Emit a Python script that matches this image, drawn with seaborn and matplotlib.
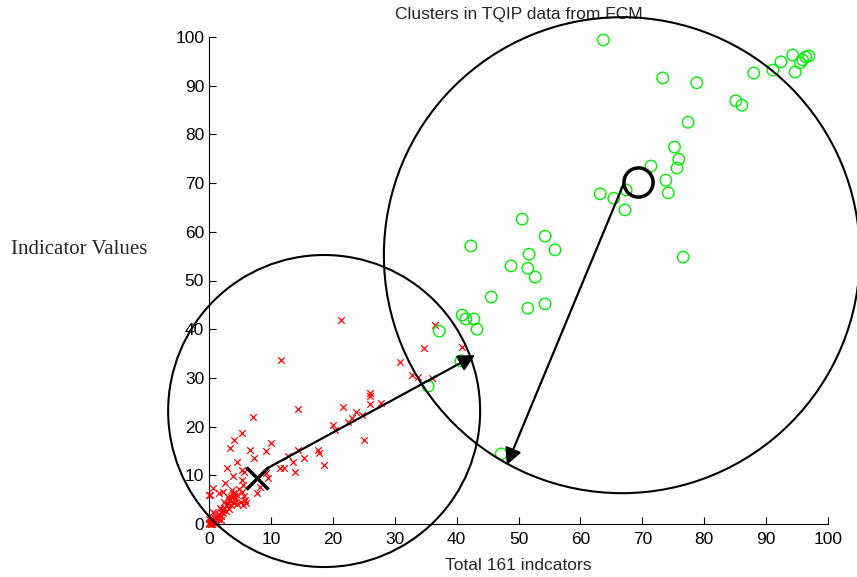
import matplotlib
matplotlib.use("Agg")
import matplotlib.pyplot as plt
from matplotlib.patches import Ellipse
import seaborn as sns

sns.set_theme(style="ticks")
plt.rcParams["font.family"] = ["Liberation Sans", "DejaVu Sans"]

# cluster 1 (red crosses)
red_x = [21.3, 11.6, 36.5, 34.7, 40.9, 30.9, 32.8, 33.8, 36.0, 26.0, 26.0, 26.0,
         27.8, 14.4, 7.1, 21.6, 23.1, 22.5, 23.7, 24.7, 20.0, 20.4, 25.0, 5.3,
         4.0, 3.4, 6.6, 10.0, 9.2, 7.3, 4.5, 2.9, 5.3, 3.9, 5.6, 11.5, 12.1,
         12.8, 13.6, 13.9, 14.4, 15.4, 17.6, 17.8, 18.6, 9.2, 9.5, 8.2, 7.8,
         5.5, 5.3, 2.6, 1.6, 0.6, 0.0, 0.2, 2.3,
         3.8, 4.0, 3.5, 3.2, 4.2, 4.5, 5.3, 5.6, 5.8, 5.9, 5.5, 5.2, 3.0, 2.7,
         2.5, 2.2, 1.9, 1.6, 1.4, 1.2, 1.0, 0.8, 0.6, 0.4, 0.2, 0.3, 0.1, 0.5,
         1.0, 1.5, 2.0, 2.3, 2.8, 3.3, 3.6, 4.0, 4.6, 1.8, 2.4, 3.0, 3.7, 4.8,
         1.2, 0.0, 0.7, 2.0, 0.0, 0.3, 0.0]
red_y = [41.9, 33.7, 40.9, 36.1, 36.3, 33.3, 30.6, 30.2, 30.0, 26.9, 26.3, 24.6,
         24.8, 23.6, 22.0, 24.0, 21.8, 21.0, 23.0, 22.4, 20.3, 19.3, 17.2, 18.7,
         17.2, 15.6, 15.2, 16.6, 15.0, 13.6, 12.7, 11.5, 11.1, 9.9, 10.6, 11.5,
         11.5, 14.0, 12.7, 10.7, 15.2, 13.6, 15.2, 14.6, 12.1, 10.5, 9.5, 7.6,
         6.4, 8.0, 9.0, 8.4, 6.4, 7.4, 6.0, 6.0, 6.6,
         6.4, 5.8, 5.5, 5.0, 5.2, 6.0, 6.5, 5.8, 5.0, 4.3, 3.8, 4.5, 4.2, 3.8,
         3.3, 2.8, 2.5, 2.0, 1.8, 1.5, 1.2, 0.9, 0.6, 0.4, 0.2, 0.8, 0.5, 0.1,
         0.4, 1.0, 1.6, 2.2, 2.6, 3.0, 3.8, 4.3, 4.1, 3.2, 4.5, 5.5, 7.0, 7.2,
         0.0, 1.0, 2.5, 0.8, 0.0, 0.0, 0.3]

# cluster 2 (green circles)
green_x = [63.7, 73.3, 78.8, 88.0, 91.1, 92.4, 94.3, 94.7, 95.5, 95.9, 96.4,
           96.9, 85.1, 86.1, 77.4, 75.2, 75.9, 75.6, 71.4, 73.8, 74.2, 63.2,
           65.4, 67.4, 67.2, 76.6, 50.6, 54.3, 55.9, 42.3, 51.7, 48.8, 51.5,
           52.7, 45.6, 51.5, 54.3, 40.9, 41.5, 42.8, 43.3, 37.2, 40.7, 35.4,
           47.2]
green_y = [99.4, 91.6, 90.6, 92.6, 93.2, 94.9, 96.3, 92.8, 94.7, 95.3, 95.9,
           96.1, 86.9, 86.0, 82.5, 77.4, 74.9, 73.1, 73.5, 70.6, 68.0, 67.8,
           66.9, 68.6, 64.5, 54.8, 62.6, 59.1, 56.3, 57.1, 55.4, 53.0, 52.5,
           50.7, 46.6, 44.3, 45.2, 42.9, 42.1, 42.1, 40.0, 39.6, 33.5, 28.3,
           14.4]

# cluster centres and radius arrows
centre_red = (7.8, 9.4)
centre_green = (69.3, 70.2)
arrow_red = ((9.5, 11.5), (43.0, 34.7))
arrow_green = ((66.9, 69.6), (48.1, 12.1))

# enclosing circles (centre, radius in pixels)
circle_red = ((18.6, 23.2), 156)
circle_green = ((66.7, 55.2), 238)

fig = plt.figure(figsize=(8.57, 5.77), dpi=100)
ax = fig.add_axes([209 / 857, 1 - 524 / 577, 619 / 857, 487 / 577])

sns.scatterplot(x=red_x, y=red_y, marker="x", color="#ff0000", s=22,
                linewidth=0.9, ax=ax, zorder=3, clip_on=False)
sns.scatterplot(x=green_x, y=green_y, marker="o", s=68, facecolor="none",
                edgecolor="#00ee00", linewidth=1.0, ax=ax, zorder=3, clip_on=False)

ax.plot(*centre_red, marker="x", color="black", markersize=16,
        markeredgewidth=2.5, zorder=5)
ax.plot(*centre_green, marker="o", markerfacecolor="none", color="black",
        markersize=21, markeredgewidth=2.5, zorder=5)

for (start, end) in [arrow_red, arrow_green]:
    ax.annotate("", xy=end, xytext=start, zorder=6,
                arrowprops=dict(arrowstyle="-|>", color="black", lw=1.6,
                                mutation_scale=25, shrinkA=0, shrinkB=0))

px_x = 619 / 100
px_y = 487 / 100
for (c, r) in [circle_red, circle_green]:
    ax.add_patch(Ellipse(c, 2 * r / px_x, 2 * r / px_y, fill=False,
                         edgecolor="black", lw=1.5, clip_on=False, zorder=4))

ax.set_xlim(0, 100)
ax.set_ylim(0, 100)
ax.set_xticks(range(0, 101, 10))
ax.set_yticks(range(0, 101, 10))
ax.tick_params(direction="in", length=5, width=0.8, labelsize=12.5, colors="black")
ax.tick_params(axis="x", pad=6)
for side in ["top", "right"]:
    ax.spines[side].set_visible(False)
for side in ["left", "bottom"]:
    ax.spines[side].set_linewidth(0.8)
    ax.spines[side].set_color("black")

ax.set_title("Clusters in TQIP data from FCM", fontsize=12.5, pad=13)
ax.set_xlabel("Total 161 indcators", fontsize=12.5, labelpad=8)
ax.set_ylabel("Indicator Values", fontsize=15, rotation=0,
              family=["Liberation Serif", "DejaVu Serif"], ha="center", va="center")
ax.yaxis.set_label_coords(-0.21, 0.563)

fig.savefig("out.png", dpi=100)
